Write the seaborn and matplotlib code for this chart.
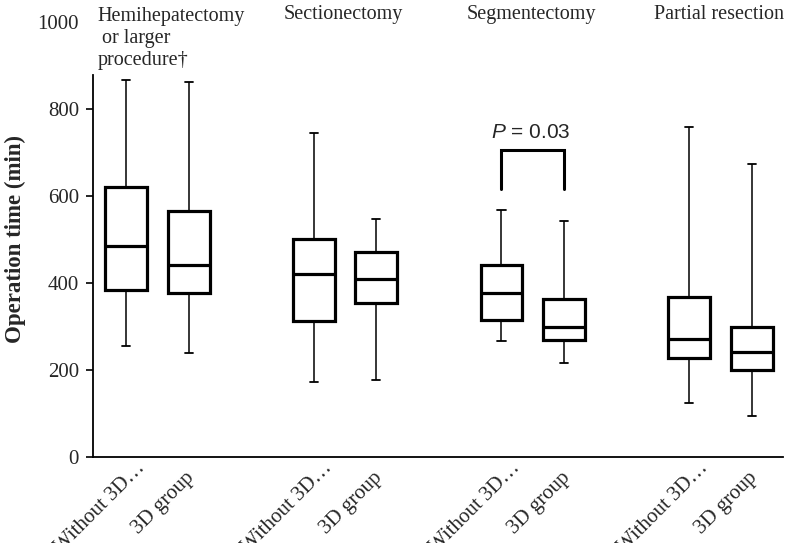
import numpy as np
import pandas as pd
import matplotlib
matplotlib.use("Agg")
import matplotlib.pyplot as plt
import matplotlib.transforms as mtransforms
import seaborn as sns

# ---- data ----
groups = ["Hemihepatectomy\n or larger\nprocedure\u2020", "Sectionectomy", "Segmentectomy", "Partial resection"]
arms = ["Without 3D\u2026", "3D group"]
# per box, in order: G1-without, G1-3D, G2-without, G2-3D, ...
mins    = [254, 238, 172, 176, 265, 216, 124,  92]
q1s     = [382, 376, 311, 352, 313, 268, 227, 199]
medians = [484, 440, 419, 409, 376, 297, 269, 241]
q3s     = [619, 564, 501, 470, 441, 362, 367, 298]
maxs    = [866, 861, 743, 545, 566, 541, 757, 672]
yticks = [0, 200, 400, 600, 800, 1000]
p_text = "$\\it{P}$ = 0.03"
p_group = 2
bracket_top = 704
bracket_bottom = 616
p_label_y = 745

sns.set_theme(style="white")
plt.rcParams["font.family"] = ["Liberation Serif", "DejaVu Serif"]
plt.rcParams["mathtext.fontset"] = "custom"
plt.rcParams["mathtext.rm"] = "Liberation Sans"
plt.rcParams["mathtext.it"] = "Liberation Sans:italic"

# build slot order with empty gap categories between groups
order = []
rows = []
k = 0
for gi, g in enumerate(groups):
    for a in arms:
        slot = f"{gi}|{a}"
        order.append(slot)
        for v in (mins[k], q1s[k], medians[k], q3s[k], maxs[k]):
            rows.append({"slot": slot, "time": v})
        k += 1
    if gi < len(groups) - 1:
        order.append(f"gap{gi}")
df = pd.DataFrame(rows)

fig = plt.figure(figsize=(7.86, 5.43), dpi=100)
ax = fig.add_axes([0.1183, 0.1593, 0.8779, 0.8011])

sns.boxplot(data=df, x="slot", y="time", order=order, ax=ax,
            color="white", linecolor="black", width=0.67, whis=(0, 100),
            showfliers=False, saturation=1,
            boxprops={"linewidth": 2.3, "edgecolor": "black", "facecolor": "white"},
            medianprops={"linewidth": 2.3, "color": "black"},
            whiskerprops={"linewidth": 1.1, "color": "black"},
            capprops={"linewidth": 1.3, "color": "black"},
            capwidths=0.13)

ax.set_xlim(-0.53, len(order) - 0.5)
ax.set_ylim(0, 1000)

# ticks
box_pos = [i for i, s in enumerate(order) if not s.startswith("gap")]
ax.set_xticks(box_pos)
ax.set_xticklabels([""] * len(box_pos))
ax.tick_params(axis="x", length=0)
# rotated category labels, anchored at their right end below each box
arm_labels = [a for _ in groups for a in arms]
for i, (pos, lab) in enumerate(zip(box_pos, arm_labels)):
    if i % 2 == 0:
        dx, dy = 16, -8.5
    else:
        dx, dy = 3, -18.5
    tr = ax.get_xaxis_transform() + mtransforms.ScaledTranslation(dx / 100, dy / 100, fig.dpi_scale_trans)
    ax.text(pos, 0, lab, transform=tr, rotation=45, ha="right", va="center",
            rotation_mode="anchor", fontsize=15, clip_on=False)

ax.set_yticks(yticks)
ax.set_yticklabels([str(t) for t in yticks], fontsize=15)
ax.tick_params(axis="y", length=5, width=1.2, color="black", direction="out", left=True, pad=5)
ax.yaxis.get_major_ticks()[-1].tick1line.set_visible(False)

ax.set_xlabel("")
ax.set_ylabel("Operation time (min)", fontsize=16.5, fontweight="bold", labelpad=8)

for side in ["top", "right"]:
    ax.spines[side].set_visible(False)
ax.spines["left"].set_color("black")
ax.spines["left"].set_linewidth(1.3)
ax.spines["left"].set_bounds(0, 876)
ax.spines["bottom"].set_color("black")
ax.spines["bottom"].set_linewidth(1.3)

# group titles
for gi, g in enumerate(groups):
    p0 = box_pos[2 * gi]
    p1 = box_pos[2 * gi + 1]
    if gi == 0:
        ax.text(p0 - 0.46, 1033, g, ha="left", va="top", fontsize=14.5,
                linespacing=1.2, clip_on=False)
    else:
        ax.text((p0 + p1) / 2 - 0.03, 1016, g, ha="center", va="center",
                fontsize=14.5, clip_on=False)

# significance bracket
b0 = box_pos[2 * p_group]
b1 = box_pos[2 * p_group + 1]
ax.plot([b0, b0, b1, b1], [bracket_bottom, bracket_top, bracket_top, bracket_bottom],
        color="black", linewidth=2.2, solid_joinstyle="miter")
ax.text((b0 + b1) / 2 - 0.04, p_label_y, p_text, ha="center", va="center",
        fontsize=15, family=["Liberation Sans", "DejaVu Sans"])

fig.savefig("out.png", dpi=100)
